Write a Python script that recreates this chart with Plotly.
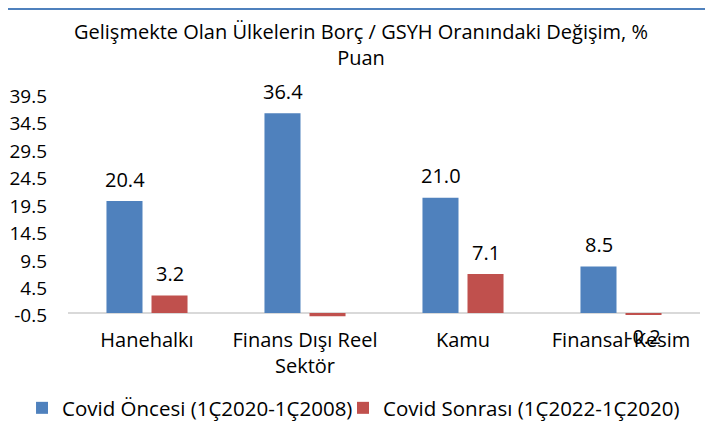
import plotly.graph_objects as go

categories = ["Hanehalkı", "Finans Dışı Reel<br>Sektör", "Kamu", "Finansal Kesim"]
series_names = ["Covid Öncesi (1Ç2020-1Ç2008)", "Covid Sonrası (1Ç2022-1Ç2020)"]
covid_oncesi = [20.4, 36.4, 21.0, 8.5]
covid_sonrasi = [3.2, -0.6, 7.1, -0.2]
covid_oncesi_labels = ["20.4", "36.4", "21.0", "8.5"]
covid_sonrasi_labels = ["3.2", "", "7.1", "-0.2"]
tick_values = [-0.5, 4.5, 9.5, 14.5, 19.5, 24.5, 29.5, 34.5, 39.5]
title_text = "Gelişmekte Olan Ülkelerin Borç / GSYH Oranındaki Değişim, %<br>Puan"

BLUE = "#4F81BD"
RED = "#C0504D"
FONT = "Open Sans"

fig = go.Figure()
fig.add_trace(go.Bar(x=categories, y=covid_oncesi, name=series_names[0],
                     marker=dict(color=BLUE, line=dict(width=0)), legend="legend"))
fig.add_trace(go.Bar(x=categories, y=covid_sonrasi, name=series_names[1],
                     marker=dict(color=RED, line=dict(width=0)), legend="legend2"))

annotations = []
for vals, labels, shift in ((covid_oncesi, covid_oncesi_labels, -22.5),
                            (covid_sonrasi, covid_sonrasi_labels, 22.5)):
    for c, v, t in zip(categories, vals, labels):
        if not t:
            continue
        annotations.append(dict(x=c, y=v, text=t, showarrow=False, xshift=shift,
                                yshift=22 if v >= 0 else -22, yanchor="middle",
                                font=dict(family=FONT, size=20, color="#000")))

legend_common = dict(orientation="h", xref="container", yref="container",
                     xanchor="left", y=0.0588, yanchor="middle",
                     font=dict(family=FONT, size=20.5, color="#000"), itemwidth=30,
                     bgcolor="rgba(0,0,0,0)")

fig.update_layout(
    width=705, height=425,
    margin=dict(l=60, r=13, t=80, b=115, autoexpand=False),
    paper_bgcolor="white", plot_bgcolor="white",
    font=dict(family=FONT, size=19, color="#000"),
    title=dict(text=title_text, x=0.5007, xanchor="center", y=0.926, yanchor="top",
               font=dict(family=FONT, size=20, color="#000")),
    barmode="group", bargap=0.43, bargroupgap=0.2,
    showlegend=True,
    legend=dict(x=0.0199, **legend_common),
    legend2=dict(x=0.4752, **legend_common),
    annotations=annotations,
    shapes=[dict(type="line", xref="paper", yref="paper", x0=-0.2, x1=1.1,
                 y0=1.343, y1=1.343, line=dict(color=BLUE, width=2))],
)
fig.update_xaxes(showline=False, ticks="", showgrid=False, ticklabelstandoff=8,
                 automargin=False,
                 tickfont=dict(family=FONT, size=20, color="#000"))
fig.update_yaxes(range=[-0.9, 41], tickvals=tick_values, ticktext=[f"{v:.1f}" for v in tick_values],
                 showgrid=False, showline=False, ticks="", ticklabelstandoff=20,
                 automargin=False,
                 zeroline=True, zerolinecolor="#D9D9D9", zerolinewidth=2,
                 tickfont=dict(family=FONT, size=19, color="#000"))

fig.write_html("out.html")
